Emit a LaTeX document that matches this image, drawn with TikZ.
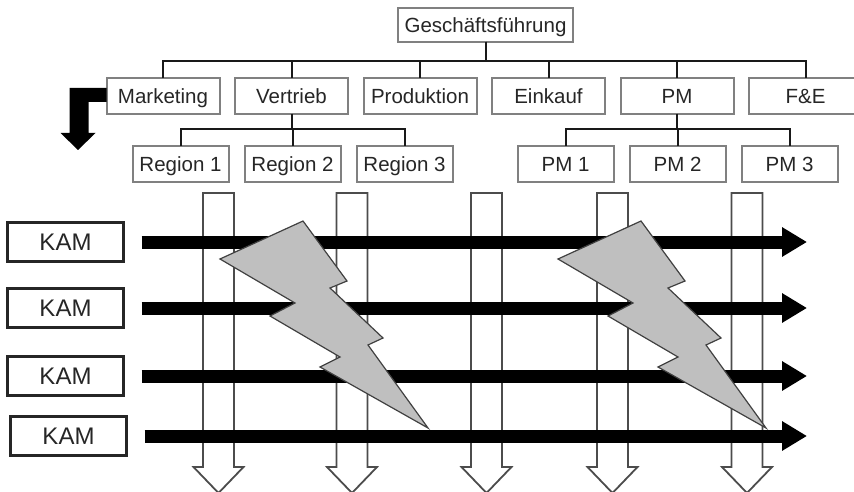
\documentclass[tikz,border=0pt]{standalone}
\usepackage{fontspec}
\setmainfont{Liberation Sans}
\usetikzlibrary{positioning,arrows.meta}

\tikzset{
  orgbox/.style={draw=black!50, line width=2pt, fill=white, text=black!85,
    minimum height=36pt, inner sep=0pt, outer sep=0pt,
    text height=15pt, text depth=0pt, font=\fontsize{20.5}{22}\selectfont},
  area/.style={orgbox, minimum width=113pt},
  unit/.style={orgbox, minimum width=96pt},
  kambox/.style={draw=black!85, line width=2.5pt, minimum width=116pt,
    minimum height=39pt, inner sep=0pt, outer sep=0pt, text=black!85,
    text height=17pt, text depth=0pt, font=\fontsize{24}{26}\selectfont},
  tree/.style={draw=black!90, line width=2pt},
  kamarrow/.style={line width=13pt, -{Triangle[length=25pt,width=28pt]}},
  hollowarrow/.style={draw=black!70, line width=1.8pt, fill=white},
  bolt/.style={draw=black!75, line width=1.2pt, fill=black!25}
}

\begin{document}
\begin{tikzpicture}[x=1pt,y=-1pt]
    \useasboundingbox (0,0) rectangle (854,492);
    \clip (0,0) rectangle (854,492);

    \node[orgbox, minimum width=175pt, minimum height=34pt] (gf) at (485.5,25) {Geschäftsführung};
    \node[area] (mkt) at (163,96) {Marketing};
    \node[area, right=15.5pt of mkt] (vtr) {Vertrieb};
    \node[area, right=15.5pt of vtr] (prod) {Produktion};
    \node[area, right=15.5pt of prod] (ek) {Einkauf};
    \node[area, right=15.5pt of ek] (pm) {PM};
    \node[area, right=15.5pt of pm] (fe) {F\&E};

    \node[unit] (r1) at (180.5,164) {Region 1};
    \node[unit, right=16pt of r1] (r2) {Region 2};
    \node[unit, right=16pt of r2] (r3) {Region 3};
    \node[unit] (pm1) at (565.5,164) {PM 1};
    \node[unit, right=16pt of pm1] (pm2) {PM 2};
    \node[unit, right=16pt of pm2] (pm3) {PM 3};

    \foreach \c in {mkt,vtr,prod,ek,pm,fe}
      \draw[tree] (gf.south) -- ++(0,19) -| (\c.north);
    \foreach \c in {r1,r2,r3}
      \draw[tree] (vtr.south) -- ++(0,15) -| (\c.north);
    \foreach \c in {pm1,pm2,pm3}
      \draw[tree] (pm.south) -- ++(0,15) -| (\c.north);

    \fill[black] (mkt.west) ++(0,-8) -- ++(-37,0) -- ++(0,45) -- ++(-9,0)
      -- ++(17.5,17) -- ++(17.5,-17) -- ++(-7,0) -- ++(0,-31) -- ++(18,0) -- cycle;

    \foreach \x in {218.5,352,486.5,612.5,747}
      \draw[hollowarrow] (\x,193) ++(-15.5,0) -- ++(0,274) -- ++(-9.5,0)
        -- ++(25,26) -- ++(25,-26) -- ++(-9.5,0) -- ++(0,-274) -- cycle;

    \node[kambox] (k1) at (65.5,242) {KAM};
    \node[kambox] (k2) at (65.5,308) {KAM};
    \node[kambox] (k3) at (65.5,376) {KAM};
    \node[kambox] (k4) at (68.5,436) {KAM};
    \coordinate (tip) at (807,0);
    \foreach \k in {k1,k2,k3,k4}
      \draw[kamarrow] ([xshift=18pt]\k.east) -- (\k -| tip);

    \foreach \x in {303,641}
      \draw[bolt, shift={(\x,221)}] (0,0) -- (44,60) -- (27,67) -- (80,117)
        -- (65,124) -- (125,207) -- (17,146) -- (37,136) -- (-33,95)
        -- (-8,82) -- (-83,38) -- cycle;
\end{tikzpicture}
\end{document}
